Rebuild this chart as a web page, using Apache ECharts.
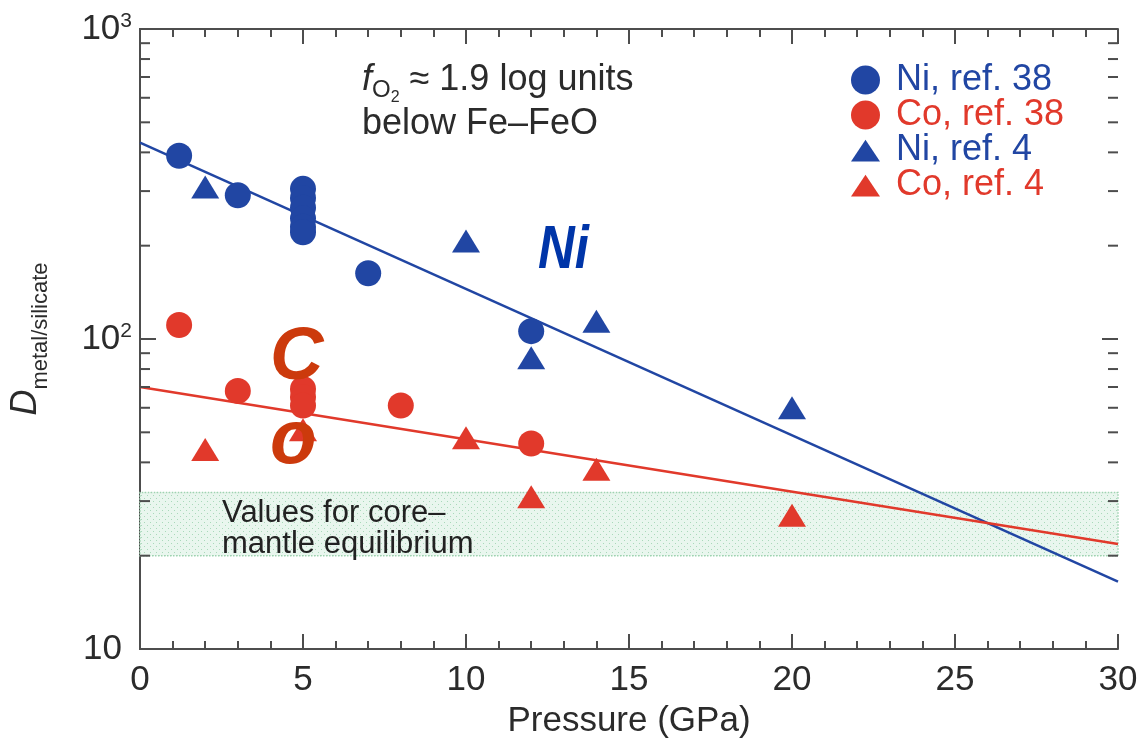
<!DOCTYPE html>
<html>
<head>
<meta charset="utf-8">
<script src="https://cdn.jsdelivr.net/npm/echarts@6/dist/echarts.min.js"></script>
<style>
  html, body { margin: 0; padding: 0; background: #fff; }
  #main { width: 1146px; height: 744px; }
</style>
</head>
<body>
<div id="main"></div>
<script>
// 数据：从图上读出来的
const niRef38 = [[1.2, 390], [3, 291], [5, 305], [5, 285], [5, 265], [5, 245], [5, 230], [5, 221], [7, 163], [12, 106]];
const coRef38 = [[1.2, 111], [3, 68], [5, 69], [5, 65], [5, 61], [8, 61], [12, 46]];
const niRef4 = [[2, 309], [10, 207], [12, 87], [14, 114], [20, 60]];
const coRef4 = [[2, 44], [5, 51], [10, 48], [12, 31], [14, 38], [20, 27]];
const niFit = [[0, 430], [30, 16.5]];
const coFit = [[0, 70], [30, 21.8]];
const bandLow = 20;
const bandHigh = 32;
const yMajorTicks = [100];
const yMinorTicks = [20, 30, 40, 50, 60, 70, 80, 90, 200, 300, 400, 500, 600, 700, 800, 900];

const BLUE = '#2146a3';
const RED = '#e1392b';
const FONT = '"Liberation Sans", Arial, sans-serif';
const AXIS = '#4d4d4d';
const TXT = '#2b2b2b';

// 绿色点点的底纹
function dotPattern() {
  const c = document.createElement('canvas');
  c.width = 6; c.height = 6;
  const ctx = c.getContext('2d');
  ctx.fillStyle = '#e9f6ee';
  ctx.fillRect(0, 0, 6, 6);
  ctx.fillStyle = '#a9d9ba';
  ctx.fillRect(0, 0, 1, 1);
  ctx.fillRect(3, 3, 1, 1);
  return c;
}

const triIcon = 'path://M0,0 M28,28 M0,25 L14,4 L28,25 Z';

const chart = echarts.init(document.getElementById('main'));

const xCommon = {
  type: 'value', min: 0, max: 30, interval: 5,
  axisLine: { lineStyle: { color: AXIS, width: 2 } },
  axisTick: { inside: true, length: 15, lineStyle: { color: AXIS, width: 2 } },
  minorTick: { show: true, splitNumber: 5, length: 8, lineStyle: { color: AXIS, width: 2 } },
  splitLine: { show: false }
};
const yCommon = {
  type: 'log', logBase: 10, min: 10, max: 1000,
  axisLine: { show: true, lineStyle: { color: AXIS, width: 2 } },
  axisTick: { show: false },
  splitLine: { show: false }
};

// 刻度线自己画，长短两种
const yTicks = yMajorTicks.map(v => [0, v, 16]).concat(yMinorTicks.map(v => [0, v, 10]));

chart.setOption({
  animation: false,
  textStyle: { fontFamily: FONT },
  grid: { left: 140, right: 28, top: 29, bottom: 88 },
  legend: {
    orient: 'vertical', left: 846, top: 57,
    itemWidth: 29, itemHeight: 29, itemGap: -1,
    textStyle: { fontSize: 36, lineHeight: 29, fontFamily: FONT, padding: [0, 0, 0, 11] },
    data: [
      { name: 'Ni, ref. 38', icon: 'circle', textStyle: { color: BLUE } },
      { name: 'Co, ref. 38', icon: 'circle', textStyle: { color: RED } },
      { name: 'Ni, ref. 4', icon: triIcon, textStyle: { color: BLUE } },
      { name: 'Co, ref. 4', icon: triIcon, textStyle: { color: RED } }
    ]
  },
  xAxis: [
    Object.assign({}, xCommon, {
      position: 'bottom',
      name: 'Pressure (GPa)', nameLocation: 'middle', nameGap: 55,
      nameTextStyle: { fontSize: 35, color: TXT },
      axisLabel: { fontSize: 35, color: TXT, margin: 14 }
    }),
    Object.assign({}, xCommon, { position: 'top', axisLabel: { show: false } })
  ],
  yAxis: [
    Object.assign({}, yCommon, {
      position: 'left',
      name: '{d|D}{s|metal/silicate}', nameLocation: 'middle', nameGap: 88, nameRotate: 90,
      nameTextStyle: {
        rich: {
          d: { fontSize: 36, fontStyle: 'italic', color: TXT, fontFamily: FONT },
          s: { fontSize: 22, color: TXT, padding: [30, 0, 0, 0], fontFamily: FONT }
        }
      },
      axisLabel: {
        margin: 8,
        formatter: function (v) {
          if (v === 10) return '{a|10}{p|}';
          return '{a|10}{s|' + Math.round(Math.log10(v)) + '}';
        },
        rich: {
          a: { fontSize: 35, color: TXT, fontFamily: FONT },
          s: { fontSize: 21, color: TXT, padding: [0, 0, 16, 0], fontFamily: FONT },
          p: { width: 10 }
        }
      }
    }),
    Object.assign({}, yCommon, { position: 'right', axisLabel: { show: false } })
  ],
  graphic: [
    {
      type: 'text', x: 362, y: 80, z: 10,
      style: {
        text: '{f|f}{o|O}{t|2}{b| ≈ 1.9 log units}',
        textVerticalAlign: 'middle',
        rich: {
          f: { fontSize: 36, fontStyle: 'italic', fill: TXT, fontFamily: FONT },
          o: { fontSize: 24, fill: TXT, padding: [20, 0, 0, 0], fontFamily: FONT },
          t: { fontSize: 16, fill: TXT, padding: [36, 0, 0, 0], fontFamily: FONT },
          b: { fontSize: 36, fill: TXT, fontFamily: FONT }
        }
      }
    },
    {
      type: 'text', x: 362, y: 124, z: 10,
      style: { text: 'below Fe–FeO', font: '36px ' + FONT, fill: TXT, textVerticalAlign: 'middle' }
    },
    {
      type: 'text', left: 222, top: 498, z: 10,
      style: {
        text: 'Values for core–\nmantle equilibrium',
        font: '31px ' + FONT, fill: '#222', lineHeight: 31
      }
    },
    {
      type: 'text', x: 538, y: 251, scaleX: 0.82, z: 10,
      style: {
        text: 'Ni', font: 'italic 900 62px ' + FONT, fill: '#0035a8',
        textVerticalAlign: 'middle'
      }
    },
    {
      type: 'text', x: 270, y: 359, z: 10,
      style: {
        text: 'C', font: 'italic bold 74px ' + FONT, fill: '#cc3a0c',
        textVerticalAlign: 'middle'
      }
    },
    {
      type: 'text', x: 270, y: 442, z: 10,
      style: {
        text: 'o', font: 'italic bold 76px ' + FONT, fill: '#cc3a0c',
        textVerticalAlign: 'middle'
      }
    }
  ],
  series: [
    {
      name: 'band', type: 'line', data: [], silent: true,
      markArea: {
        silent: true,
        itemStyle: {
          color: { image: dotPattern(), repeat: 'repeat' },
          borderColor: '#9fd3b1', borderWidth: 1.5, borderType: 'dotted'
        },
        data: [[{ yAxis: bandLow }, { yAxis: bandHigh }]]
      }
    },
    {
      name: 'yTicks', type: 'custom', silent: true, z: 3,
      data: yTicks,
      renderItem: function (params, api) {
        const len = api.value(2);
        const l = api.coord([0, api.value(1)]);
        const r = api.coord([30, api.value(1)]);
        const st = { stroke: AXIS, lineWidth: 2 };
        return {
          type: 'group',
          children: [
            { type: 'line', shape: { x1: l[0], y1: l[1], x2: l[0] + len, y2: l[1] }, style: st },
            { type: 'line', shape: { x1: r[0] - len, y1: r[1], x2: r[0], y2: r[1] }, style: st }
          ]
        };
      }
    },
    {
      name: 'Ni fit', type: 'line', data: niFit, showSymbol: false, z: 2,
      lineStyle: { color: BLUE, width: 2.5 }
    },
    {
      name: 'Co fit', type: 'line', data: coFit, showSymbol: false, z: 2,
      lineStyle: { color: RED, width: 2.5 }
    },
    {
      name: 'Ni, ref. 38', type: 'scatter', data: niRef38, symbol: 'circle', symbolSize: 26, z: 4,
      itemStyle: { color: BLUE, opacity: 1 }
    },
    {
      name: 'Co, ref. 38', type: 'scatter', data: coRef38, symbol: 'circle', symbolSize: 26, z: 4,
      itemStyle: { color: RED, opacity: 1 }
    },
    {
      name: 'Ni, ref. 4', type: 'scatter', data: niRef4, symbol: 'triangle', symbolSize: [28, 23], z: 4,
      itemStyle: { color: BLUE, opacity: 1 }
    },
    {
      name: 'Co, ref. 4', type: 'scatter', data: coRef4, symbol: 'triangle', symbolSize: [28, 23], z: 4,
      itemStyle: { color: RED, opacity: 1 }
    }
  ]
});
</script>
</body>
</html>
